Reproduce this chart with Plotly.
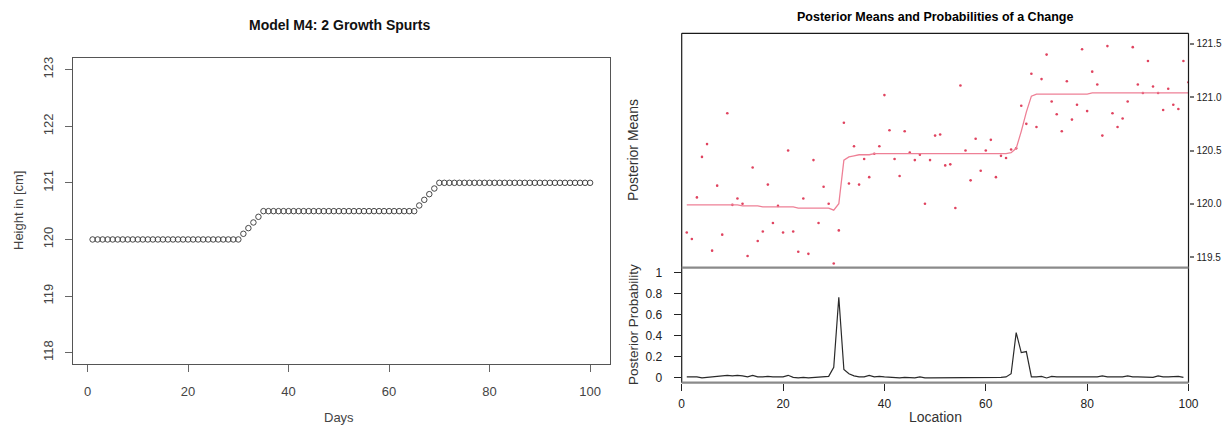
import plotly.graph_objects as go

W, H = 1223, 426

# ---------------- data ----------------
days = list(range(1, 101))
heights = [
    120.0, 120.0, 120.0, 120.0, 120.0, 120.0, 120.0, 120.0, 120.0, 120.0,
    120.0, 120.0, 120.0, 120.0, 120.0, 120.0, 120.0, 120.0, 120.0, 120.0,
    120.0, 120.0, 120.0, 120.0, 120.0, 120.0, 120.0, 120.0, 120.0, 120.0,
    120.1, 120.2, 120.3, 120.4, 120.5, 120.5, 120.5, 120.5, 120.5, 120.5,
    120.5, 120.5, 120.5, 120.5, 120.5, 120.5, 120.5, 120.5, 120.5, 120.5,
    120.5, 120.5, 120.5, 120.5, 120.5, 120.5, 120.5, 120.5, 120.5, 120.5,
    120.5, 120.5, 120.5, 120.5, 120.5, 120.6, 120.7, 120.8, 120.9, 121.0,
    121.0, 121.0, 121.0, 121.0, 121.0, 121.0, 121.0, 121.0, 121.0, 121.0,
    121.0, 121.0, 121.0, 121.0, 121.0, 121.0, 121.0, 121.0, 121.0, 121.0,
    121.0, 121.0, 121.0, 121.0, 121.0, 121.0, 121.0, 121.0, 121.0, 121.0,
]

location = list(range(1, 101))
observed = [
    119.73, 119.67, 120.06, 120.44, 120.56, 119.56, 120.17, 119.71, 120.85, 119.99,
    120.05, 120.00, 119.51, 120.34, 119.65, 119.74, 120.18, 119.82, 119.98, 119.73,
    120.50, 119.74, 119.55, 120.05, 119.53, 120.41, 119.82, 120.16, 120.00, 119.44,
    119.75, 120.76, 120.19, 120.54, 120.18, 120.42, 120.25, 120.47, 120.54, 121.02,
    120.69, 120.42, 120.26, 120.68, 120.48, 120.41, 120.46, 120.00, 120.41, 120.64,
    120.65, 120.36, 120.37, 119.96, 121.11, 120.50, 120.22, 120.61, 120.31, 120.50,
    120.60, 120.25, 120.45, 120.43, 120.51, 120.52, 120.92, 120.75, 121.22, 120.72,
    121.17, 121.40, 120.96, 120.84, 120.68, 121.15, 120.79, 120.93, 121.45, 120.87,
    121.24, 121.12, 120.64, 121.48, 120.85, 120.72, 120.80, 120.96, 121.47, 121.12,
    121.04, 121.34, 121.10, 121.04, 120.88, 121.08, 120.93, 120.89, 121.34, 121.14,
]
posterior_mean = [
    119.99, 119.99, 119.99, 119.99, 119.99, 119.99, 119.99, 119.99, 119.99, 119.99,
    119.99, 119.98, 119.98, 119.98, 119.98, 119.97, 119.97, 119.97, 119.97, 119.97,
    119.97, 119.97, 119.96, 119.96, 119.96, 119.96, 119.96, 119.96, 119.96, 119.94,
    120.00, 120.41, 120.44, 120.45, 120.46, 120.46, 120.46, 120.47, 120.47, 120.47,
    120.47, 120.47, 120.47, 120.47, 120.47, 120.47, 120.47, 120.47, 120.47, 120.47,
    120.47, 120.47, 120.47, 120.47, 120.47, 120.47, 120.47, 120.47, 120.47, 120.47,
    120.47, 120.47, 120.47, 120.47, 120.48, 120.52, 120.68, 120.86, 121.01, 121.03,
    121.03, 121.03, 121.03, 121.03, 121.03, 121.03, 121.03, 121.03, 121.03, 121.03,
    121.04, 121.04, 121.04, 121.04, 121.04, 121.04, 121.04, 121.04, 121.04, 121.04,
    121.04, 121.04, 121.04, 121.04, 121.04, 121.04, 121.04, 121.04, 121.04, 121.04,
]
prob_location = list(range(1, 100))
posterior_prob = [
    0.010, 0.010, 0.010, 0.000, 0.005, 0.010, 0.010, 0.015, 0.025, 0.020,
    0.025, 0.020, 0.010, 0.025, 0.010, 0.010, 0.015, 0.010, 0.010, 0.010,
    0.025, 0.005, 0.000, 0.005, 0.000, 0.005, 0.010, 0.015, 0.015, 0.100,
    0.765, 0.080, 0.040, 0.020, 0.010, 0.010, 0.025, 0.010, 0.015, 0.010,
    0.005, 0.005, 0.000, 0.005, 0.005, 0.000, 0.010, 0.000, 0.000, 0.000,
    0.000, 0.000, 0.005, 0.005, 0.005, 0.005, 0.005, 0.000, 0.005, 0.005,
    0.005, 0.005, 0.005, 0.010, 0.040, 0.430, 0.240, 0.250, 0.010, 0.010,
    0.015, 0.000, 0.015, 0.010, 0.010, 0.010, 0.010, 0.010, 0.010, 0.010,
    0.010, 0.010, 0.020, 0.010, 0.010, 0.010, 0.010, 0.020, 0.010, 0.010,
    0.010, 0.005, 0.005, 0.020, 0.010, 0.010, 0.010, 0.015, 0.005,
]

left_x_ticks = [0, 20, 40, 60, 80, 100]
left_y_ticks = [118, 119, 120, 121, 122, 123]
mean_ticks = [119.5, 120.0, 120.5, 121.0, 121.5]
mean_tick_text = ["119.5", "120.0", "120.5", "121.0", "121.5"]
prob_ticks = [0, 0.2, 0.4, 0.6, 0.8, 1.0]
prob_tick_text = ["0", "0.2", "0.4", "0.6", "0.8", "1"]
loc_ticks = [0, 20, 40, 60, 80, 100]

FONT = "Liberation Sans, Arial, Helvetica, sans-serif"


def fx(px):
    return px / W


def fy(px):
    return 1 - px / H


# panel geometry in pixels
L_LEFT, L_RIGHT, L_TOP, L_BOT = 72.7, 610.0, 58.3, 364.0
R_LEFT, R_RIGHT, R_TOP, R_MID, R_BOT = 681.7, 1188.5, 33.3, 267.7, 382.7

fig = go.Figure()

# left chart: simulated growth
fig.add_trace(go.Scatter(
    x=days, y=heights, mode="markers", xaxis="x", yaxis="y",
    marker=dict(symbol="circle-open", size=5.5, color="#333333",
                line=dict(width=0.9, color="#333333")),
    showlegend=False, hoverinfo="x+y",
))

# right chart, top: observations and posterior means
fig.add_trace(go.Scatter(
    x=location, y=observed, mode="markers", xaxis="x2", yaxis="y2",
    marker=dict(symbol="circle", size=2.6, color="#E0435F"),
    showlegend=False,
))
fig.add_trace(go.Scatter(
    x=location, y=posterior_mean, mode="lines", xaxis="x2", yaxis="y2",
    line=dict(color="#EE8096", width=1.3),
    showlegend=False,
))

# right chart, bottom: posterior probability of a change
fig.add_trace(go.Scatter(
    x=prob_location, y=posterior_prob, mode="lines", xaxis="x3", yaxis="y3",
    line=dict(color="#2a2a2a", width=1.2),
    showlegend=False,
))

tick_font_left = dict(family=FONT, size=13, color="#444444")
tick_font_right = dict(family=FONT, size=12, color="#222222")
tick_font_means = dict(family=FONT, size=10, color="#222222")

fig.update_layout(
    template="none",
    width=W, height=H, autosize=False,
    margin=dict(l=0, r=0, t=0, b=0, pad=0),
    paper_bgcolor="white", plot_bgcolor="white",
    font=dict(family=FONT),
    xaxis=dict(
        domain=[fx(L_LEFT), fx(L_RIGHT)], anchor="y", automargin=False,
        range=[-2.96, 103.96], tickvals=left_x_ticks,
        ticks="outside", ticklen=7, tickcolor="#666666", tickwidth=1,
        showline=True, mirror=True, linecolor="#555555", linewidth=1,
        showgrid=False, zeroline=False, tickfont=tick_font_left,
        ticklabelstandoff=8,
    ),
    yaxis=dict(
        domain=[fy(L_BOT), fy(L_TOP)], anchor="x", automargin=False,
        range=[117.8, 123.2], tickvals=left_y_ticks,
        ticks="outside", ticklen=7, tickcolor="#666666", tickwidth=1,
        showline=True, mirror=True, linecolor="#555555", linewidth=1,
        showgrid=False, zeroline=False, tickfont=tick_font_left,
        tickangle=-90, ticklabelstandoff=7,
    ),
    xaxis2=dict(
        domain=[fx(R_LEFT), fx(R_RIGHT)], anchor="y2", automargin=False,
        range=[0, 100], showticklabels=False, ticks="",
        showline=False, showgrid=False, zeroline=False,
    ),
    yaxis2=dict(
        domain=[fy(R_MID), fy(R_TOP)], anchor="x2", side="right",
        automargin=False,
        range=[119.40, 121.60], tickvals=mean_ticks, ticktext=mean_tick_text,
        ticks="outside", ticklen=4, tickcolor="#777777", tickwidth=2,
        showline=False, showgrid=False, zeroline=False,
        tickfont=tick_font_means, ticklabelstandoff=1,
    ),
    xaxis3=dict(
        domain=[fx(R_LEFT), fx(R_RIGHT)], anchor="y3", automargin=False,
        range=[0, 100], tickvals=loc_ticks,
        ticks="outside", ticklen=7, tickcolor="#222222", tickwidth=1,
        showline=False, showgrid=False, zeroline=False,
        tickfont=tick_font_right, ticklabelstandoff=3,
    ),
    yaxis3=dict(
        domain=[fy(R_BOT), fy(R_MID)], anchor="x3", automargin=False,
        range=[-0.045, 1.045], tickvals=prob_ticks, ticktext=prob_tick_text,
        ticks="outside", ticklen=7, tickcolor="#222222", tickwidth=1,
        showline=False, showgrid=False, zeroline=False,
        tickfont=tick_font_right, ticklabelstandoff=9,
    ),
)

# frame of the right chart
frame = [
    (R_LEFT, R_TOP, R_RIGHT, R_TOP, "#1a1a1a", 1.2),
    (R_LEFT, R_TOP, R_LEFT, R_BOT, "#1a1a1a", 1.2),
    (R_RIGHT, R_TOP, R_RIGHT, R_BOT, "#1a1a1a", 1.2),
    (R_LEFT, R_MID, R_RIGHT, R_MID, "#8a8a8a", 2.2),
    (R_LEFT, R_BOT, R_RIGHT, R_BOT, "#8a8a8a", 2.2),
]
for x0, y0, x1, y1, col, w in frame:
    fig.add_shape(type="line", xref="paper", yref="paper",
                  x0=fx(x0), y0=fy(y0), x1=fx(x1), y1=fy(y1),
                  line=dict(color=col, width=w), layer="above")

texts = [
    # (text, x, y, size, color, angle, bold)
    ("Model M4: 2 Growth Spurts", 339, 25, 14, "#111111", 0, True),
    ("Height in [cm]", 19, 211, 13, "#444444", -90, False),
    ("Days", 339, 417, 13, "#444444", 0, False),
    ("Posterior Means and Probabilities of a Change", 935, 17, 12.5, "#000000", 0, True),
    ("Posterior Means", 633, 150, 14, "#333333", -90, False),
    ("Posterior Probability", 633, 325, 13.5, "#333333", -90, False),
    ("Location", 935, 417, 14, "#333333", 0, False),
]
for t, x, y, s, c, a, b in texts:
    fig.add_annotation(
        text=f"<b>{t}</b>" if b else t,
        xref="paper", yref="paper", x=fx(x), y=fy(y),
        xanchor="center", yanchor="middle", showarrow=False,
        textangle=a, font=dict(family=FONT, size=s, color=c),
    )

fig.write_html("out.html")
